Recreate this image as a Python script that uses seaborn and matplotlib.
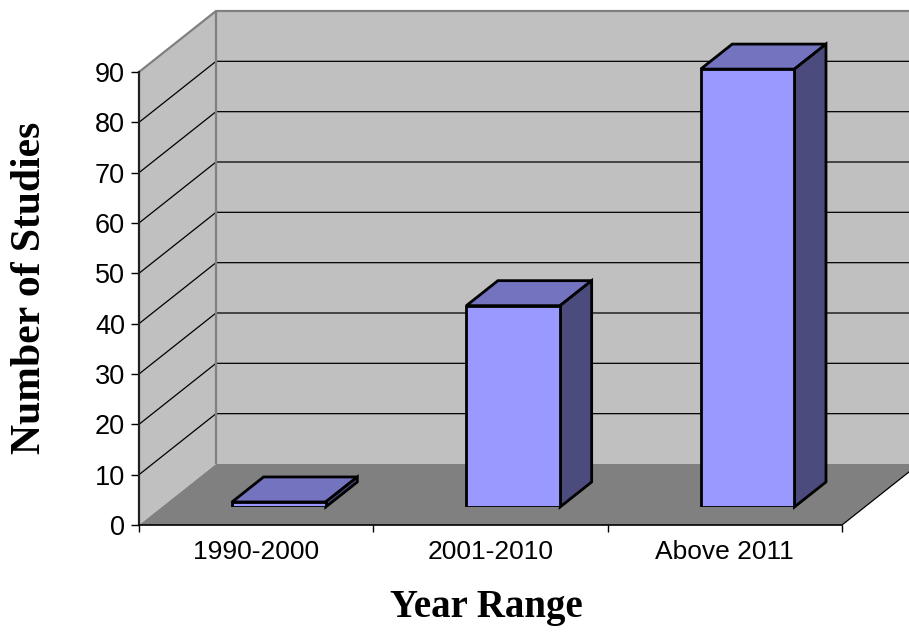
import matplotlib
matplotlib.use("Agg")
import matplotlib.pyplot as plt
import seaborn as sns
from matplotlib.patches import Polygon
from matplotlib.lines import Line2D
from matplotlib.transforms import IdentityTransform

# ---- data ----
categories = ["1990-2000", "2001-2010", "Above 2011"]
values = [1, 40, 87]
y_ticks = [0, 10, 20, 30, 40, 50, 60, 70, 80, 90]
x_label = "Year Range"
y_label = "Number of Studies"

sns.set_style("white")
plt.rcParams["font.family"] = ["Liberation Sans", "DejaVu Sans"]
plt.rcParams["text.color"] = "black"
plt.rcParams["xtick.color"] = "black"
plt.rcParams["ytick.color"] = "black"

W, H = 909, 632
fig = plt.figure(figsize=(W / 100, H / 100), dpi=100)

L, R, T, B = 139, 842, 72, 525      # front plane in pixels
DX, DY = 77, 61                     # full depth offset (right, up)
F1, F2 = 0.295, 0.705               # bar front / back depth fractions


def rect(dx=0.0, dy=0.0):
    return [(L + dx) / W, (H - B + dy) / H, (R - L) / W, (B - T) / H]


ax = fig.add_axes(rect())
axb = fig.add_axes(rect(F1 * DX, F1 * DY))
for a in (ax, axb):
    a.set_facecolor("none")

# ---- bars (front faces) via seaborn ----
sns.barplot(x=categories, y=values, ax=axb, color="#9999FF", saturation=1,
            width=0.4, edgecolor="black", linewidth=2.0)
axb.set_xlim(-0.5, 2.5)
axb.set_ylim(0, max(y_ticks))
axb.axis("off")

ax.set_xlim(-0.5, 2.5)
ax.set_ylim(0, max(y_ticks))
ymax = max(y_ticks)


def P(x, v, f):
    px, py = ax.transData.transform((x, v))
    return (px + f * DX, py + f * DY)


idt = IdentityTransform()


def poly(a, pts, fc, z, ec="none", lw=0):
    a.add_patch(Polygon(pts, closed=True, facecolor=fc, edgecolor=ec,
                        linewidth=lw, transform=idt, clip_on=False, zorder=z,
                        joinstyle="miter"))


def line(a, pts, color, lw, z):
    xs = [p[0] for p in pts]
    ys = [p[1] for p in pts]
    a.add_line(Line2D(xs, ys, color=color, linewidth=lw, transform=idt,
                      clip_on=False, zorder=z, solid_capstyle="butt"))


# walls & floor
poly(ax, [P(-0.5, 0, 1), P(2.5, 0, 1), P(2.5, ymax, 1), P(-0.5, ymax, 1)], "#C0C0C0", 0.1)
poly(ax, [P(-0.5, 0, 0), P(-0.5, ymax, 0), P(-0.5, ymax, 1), P(-0.5, 0, 1)], "#C0C0C0", 0.1)
poly(ax, [P(-0.5, 0, 0), P(2.5, 0, 0), P(2.5, 0, 1), P(-0.5, 0, 1)], "#808080", 0.2)

for v in y_ticks[1:-1]:
    line(ax, [P(-0.5, v, 0), P(-0.5, v, 1), P(2.5, v, 1)], "black", 0.9, 0.3)

line(ax, [P(-0.5, ymax, 0), P(-0.5, ymax, 1), P(2.5, ymax, 1)], "#808080", 1.6, 0.4)
line(ax, [P(-0.5, 0, 1), P(-0.5, ymax, 1)], "#808080", 1.6, 0.4)
line(ax, [P(2.5, 0, 0), P(2.5, 0, 1)], "black", 0.9, 0.4)

# 3D faces of bars
d = ((F2 - F1) * DX, (F2 - F1) * DY)
for p in axb.patches:
    x0, w, h = p.get_x(), p.get_width(), p.get_height()
    tl = axb.transData.transform((x0, h))
    tr = axb.transData.transform((x0 + w, h))
    br = axb.transData.transform((x0 + w, 0))
    shift = lambda q: (q[0] + d[0], q[1] + d[1])
    poly(axb, [tl, tr, shift(tr), shift(tl)], "#7373BF", 1.0, "black", 2.0)
    poly(axb, [br, tr, shift(tr), shift(br)], "#4B4B7E", 1.0, "black", 2.0)
    p.set_zorder(2)

# ---- axes, ticks ----
for s in ("top", "right"):
    ax.spines[s].set_visible(False)
ax.spines["left"].set_color("#202020")
ax.spines["left"].set_linewidth(1.6)
ax.spines["bottom"].set_color("black")
ax.spines["bottom"].set_linewidth(1.2)
ax.spines["left"].set_zorder(3)
ax.spines["bottom"].set_zorder(3)

ax.set_yticks(y_ticks)
ax.set_yticklabels([str(t) for t in y_ticks], fontsize=19.5)
ax.tick_params(axis="y", length=6, width=1, pad=4, colors="black", left=True)

ax.set_xticks([-0.5, 0.5, 1.5, 2.5])
ax.set_xticklabels([])
ax.set_xticks([0, 1, 2], minor=True)
ax.set_xticklabels(categories, minor=True, fontsize=19)
ax.tick_params(axis="x", which="major", length=5, width=1, bottom=True, colors="black")
ax.tick_params(axis="x", which="minor", length=0, pad=11, bottom=True, colors="black")

fig.text(30 / W, 1 - 288 / H, y_label, rotation=90, ha="center", va="center",
         fontsize=30, fontweight="bold", color="black",
         family=["Liberation Serif", "DejaVu Serif"])
fig.text(486 / W, 1 - 608 / H, x_label, ha="center", va="center",
         fontsize=28, fontweight="bold", color="black",
         family=["Liberation Serif", "DejaVu Serif"])

fig.savefig("out.png", dpi=100)
